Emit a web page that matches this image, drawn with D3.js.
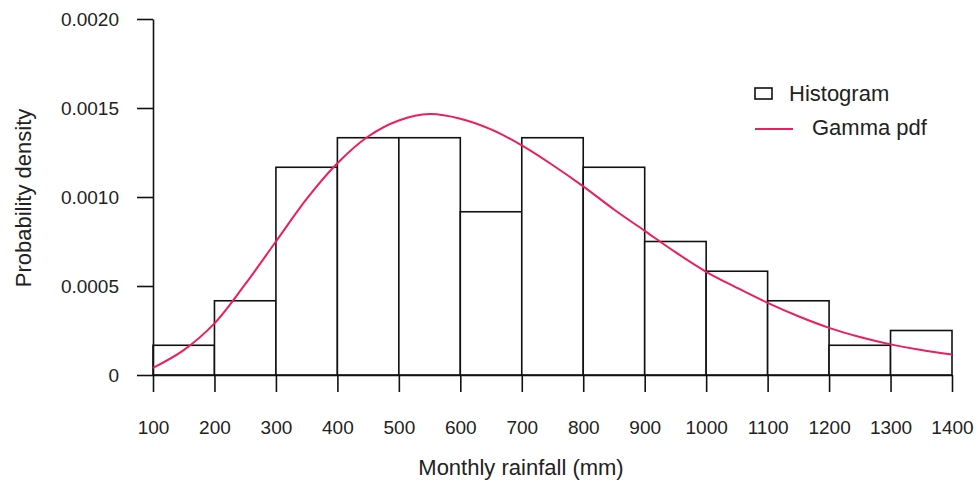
<!DOCTYPE html>
<html>
<head>
<meta charset="utf-8">
<script src="https://cdn.jsdelivr.net/npm/d3@7"></script>
<style>
  body { margin: 0; background: white; }
  text { font-family: "Liberation Sans", Arial, sans-serif; fill: #222; }
</style>
</head>
<body>
<div id="chart"></div>
<script>
'use strict';

// histogram bins (mm) and their densities
const binEdges = [100, 200, 300, 400, 500, 600, 700, 800, 900, 1000, 1100, 1200, 1300, 1400];
const binDensity = [0.000167, 0.000417, 0.001167, 0.001333, 0.001333, 0.000917, 0.001333,
  0.001167, 0.00075, 0.000583, 0.000417, 0.000167, 0.00025];

// fitted gamma pdf
const pdfX = [100, 150, 200, 250, 300, 350, 400, 450, 500, 550, 600, 650, 700, 750, 800,
  850, 900, 950, 1000, 1050, 1100, 1150, 1200, 1250, 1300, 1350, 1400];
const pdfY = [0.00004, 0.00014, 0.00029, 0.00051, 0.00075, 0.00099, 0.00119, 0.00134, 0.00143,
  0.001466, 0.00144, 0.00138, 0.00129, 0.00118, 0.00106, 0.00093, 0.00081, 0.00069, 0.00058,
  0.00049, 0.000405, 0.00033, 0.000265, 0.000213, 0.000172, 0.00014, 0.000115];

const xTicks = binEdges;
const yTicks = [0, 0.0005, 0.001, 0.0015, 0.002];
const yTickLabels = ["0", "0.0005", "0.0010", "0.0015", "0.0020"];

const curveColor = "#ee1d5d";
const ink = "#111";

const W = 979, H = 483;
const margin = {top: 19, right: 27, bottom: 108, left: 153},
    width = W - margin.left - margin.right,
    height = H - margin.top - margin.bottom;

const svg = d3.select("#chart")
  .append("svg")
    .attr("width", W)
    .attr("height", H)
  .append("g")
    .attr("transform", `translate(${margin.left}, ${margin.top})`);

const x = d3.scaleLinear().domain([100, 1400]).range([0, width]);
const y = d3.scaleLinear().domain([0, 0.002]).range([height, 0]);

// bars
const bins = binDensity.map((d, i) => ({x0: binEdges[i], x1: binEdges[i + 1], d}));
svg.selectAll("rect.bar")
  .data(bins)
  .enter()
  .append("rect")
    .attr("class", "bar")
    .attr("x", d => x(d.x0))
    .attr("y", d => y(d.d))
    .attr("width", d => x(d.x1) - x(d.x0))
    .attr("height", d => y(0) - y(d.d))
    .attr("fill", "white")
    .attr("stroke", ink)
    .attr("stroke-width", 1.6);

// x axis
const xAxis = svg.append("g")
  .attr("transform", `translate(0,${height})`)
  .call(d3.axisBottom(x).tickValues(xTicks).tickFormat(d3.format("d"))
    .tickSize(17).tickSizeOuter(0).tickPadding(29));
xAxis.select(".domain").attr("stroke", ink).attr("stroke-width", 1.6);
xAxis.selectAll(".tick line").attr("stroke", ink).attr("stroke-width", 1.6);
xAxis.selectAll("text").style("font-size", "19px").attr("fill", "#222");

// y axis
const yAxis = svg.append("g")
  .call(d3.axisLeft(y).tickValues(yTicks).tickFormat((d, i) => yTickLabels[i])
    .tickSize(16).tickSizeOuter(0).tickPadding(18));
yAxis.select(".domain").attr("stroke", ink).attr("stroke-width", 1.6);
yAxis.selectAll(".tick line").attr("stroke", ink).attr("stroke-width", 1.6);
yAxis.selectAll("text").style("font-size", "19px").attr("fill", "#222");

// gamma pdf
const line = d3.line()
  .x((d, i) => x(pdfX[i]))
  .y(d => y(d))
  .curve(d3.curveCatmullRom.alpha(0.5));
svg.append("path")
  .datum(pdfY)
  .attr("d", line)
  .attr("fill", "none")
  .attr("stroke", curveColor)
  .attr("stroke-width", 2);

// axis titles
svg.append("text")
  .attr("x", 521 - margin.left)
  .attr("y", height + 100)
  .attr("text-anchor", "middle")
  .style("font-size", "22px")
  .text("Monthly rainfall (mm)");

svg.append("text")
  .attr("transform", `translate(${31 - margin.left},${198 - margin.top}) rotate(-90)`)
  .attr("text-anchor", "middle")
  .style("font-size", "22px")
  .text("Probability density");

// legend
const legend = svg.append("g").attr("transform", `translate(${755 - margin.left}, ${88 - margin.top})`);
legend.append("rect")
  .attr("x", 0).attr("y", 0).attr("width", 17).attr("height", 11)
  .attr("fill", "white").attr("stroke", ink).attr("stroke-width", 1.6);
legend.append("text")
  .attr("x", 34).attr("y", 13)
  .style("font-size", "22px")
  .text("Histogram");
legend.append("line")
  .attr("x1", 0).attr("x2", 38).attr("y1", 41).attr("y2", 41)
  .attr("stroke", curveColor).attr("stroke-width", 2);
legend.append("text")
  .attr("x", 57).attr("y", 47)
  .style("font-size", "22px")
  .text("Gamma pdf");
</script>
</body>
</html>
